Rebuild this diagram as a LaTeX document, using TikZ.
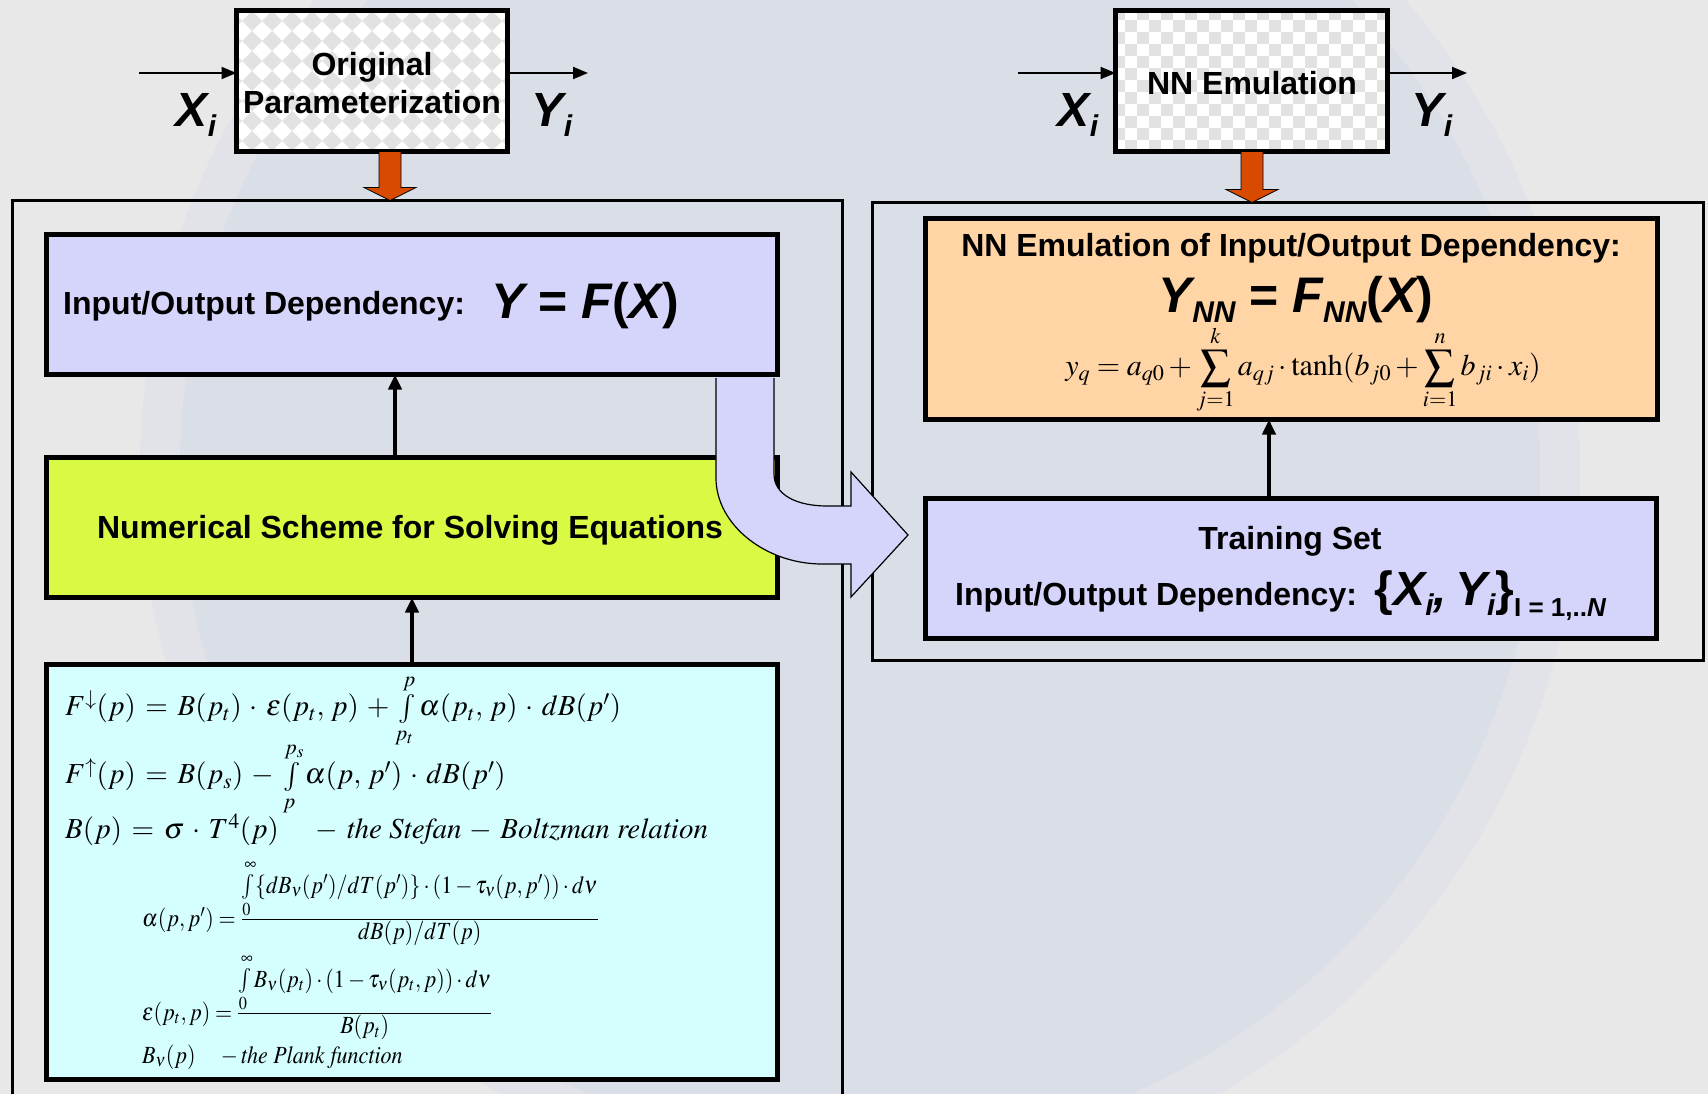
\documentclass[tikz,border=0pt]{standalone}
\usepackage{graphicx}
\usepackage{mathptmx}
\usepackage[no-math]{fontspec}
\setmainfont{Liberation Serif}
\setsansfont{Liberation Sans}
\usetikzlibrary{arrows.meta,calc}
\definecolor{bggray}{RGB}{232,232,233}
\definecolor{bgmid}{RGB}{225,227,232}
\definecolor{bgblue}{RGB}{218,222,231}
\definecolor{lav}{RGB}{213,213,252}
\definecolor{lime}{RGB}{216,250,68}
\definecolor{cyanl}{RGB}{213,255,255}
\definecolor{peach}{RGB}{255,213,166}
\definecolor{orng}{RGB}{216,74,0}
\definecolor{chk}{RGB}{226,226,226}
\newcommand{\BI}{\sffamily\bfseries\itshape}
\newcommand{\BU}{\sffamily\bfseries\upshape}
\newcommand{\sbs}[1]{\raisebox{-10pt}{\fontsize{30}{30}\selectfont #1}}
\newcommand{\sbsm}[1]{\raisebox{-11pt}{\fontsize{26}{26}\selectfont #1}}
\newcommand{\wide}{\thickmuskip=6mu plus 2mu\medmuskip=5mu plus 2mu}
\newcommand{\fatdown}[2]{\filldraw[fat] ($(#1)+(-11,0)$) -- ($(#2)+(-11,-13)$) -- ($(#2)+(-26,-13)$) -- (#2) -- ($(#2)+(26,-13)$) -- ($(#2)+(11,-13)$) -- ($(#1)+(11,0)$) -- cycle;}
\begin{document}
\begin{tikzpicture}[x=1pt,y=-1pt,
  bx/.style={draw=black,line width=5pt,rectangle,inner sep=0pt,outer sep=0pt},
  bigbx/.style={draw=black,line width=3pt,rectangle,inner sep=0pt,outer sep=0pt},
  lbl/.style={font=\sffamily\bfseries\fontsize{32}{38}\selectfont,inner sep=0pt,align=center},
  eqn/.style={font=\fontsize{29}{33}\selectfont\wide,inner sep=0pt,anchor=west},
  eqs/.style={font=\fontsize{22}{26}\selectfont,inner sep=0pt,anchor=west},
  thinarr/.style={draw=black,line width=2pt,-{Triangle[length=15pt,width=12pt]}},
  uparr/.style={draw=black,line width=4pt,-{Triangle[length=15pt,width=13pt]}},
  fat/.style={fill=orng,draw=black,line width=0.8pt,line join=miter},
  curv/.style={fill=lav,draw=none},
  curvline/.style={draw=black,line width=1.2pt}
]
\clip (0,0) rectangle (1708,1094);
\fill[bggray] (0,0) rectangle (1708,1094);
\fill[bgmid] (860,470) circle (720pt);
\fill[bgblue] (860,470) circle (680pt);

% big frames
\node[bigbx, minimum width=830pt, minimum height=920pt] (leftbig) at (427.5,660.5) {};
\node[bigbx, minimum width=831pt, minimum height=458pt] (rightbig) at (1288,431.5) {};

% top boxes (pattern coordinates relative to node centre)
\node[bx, fill=white, minimum width=271pt, minimum height=141pt,
  path picture={
    \foreach \i in {0,...,15}{\foreach \j in {0,...,8}{
      \fill[chk] (-150+20*\i,-80+20*\j) -- ++(10,10) -- ++(10,-10) -- ++(-10,-10) -- cycle;}}
  }] (orig) at (372,81) {};
\node[bx, fill=white, minimum width=272pt, minimum height=141pt,
  path picture={
    \foreach \i in {0,2,...,24}{\foreach \j in {0,2,...,12}{
      \fill[chk] (-139+12*\i,-73+12*\j) rectangle ++(12,12);
      \fill[chk] (-127+12*\i,-61+12*\j) rectangle ++(12,12);}}
  }] (nnemu) at (1251.5,81) {};

\node[lbl] (origtxt) at (372,83) {Original\\Parameterization};
\node[lbl] (nnemutxt) at (1252,83) {NN Emulation};

% orange arrows
\coordinate (oa) at (390,0);
\coordinate (ob) at (1252,0);
\fatdown{oa |- orig.south}{oa |- leftbig.north}
\fatdown{ob |- nnemu.south}{ob |- rightbig.north}

% input / output arrows
\coordinate (xl) at (139,73);
\coordinate (yl) at (588,73);
\coordinate (xr) at (1018,73);
\coordinate (yr) at (1467,73);
\draw[thinarr] (xl) -- (xl -| orig.west);
\draw[thinarr] (orig.east |- yl) -- (yl);
\draw[thinarr] (xr) -- (xr -| nnemu.west);
\draw[thinarr] (nnemu.east |- yr) -- (yr);

\node[inner sep=0pt] (xil) at (196,115) {\fontsize{48}{48}\selectfont\BI X\sbs{i}};
\node[inner sep=0pt] (yil) at (552,115) {\fontsize{48}{48}\selectfont\BI Y\sbs{i}};
\node[inner sep=0pt] (xir) at (1078,115) {\fontsize{48}{48}\selectfont\BI X\sbs{i}};
\node[inner sep=0pt] (yir) at (1432,115) {\fontsize{48}{48}\selectfont\BI Y\sbs{i}};

% left column boxes
\node[bx, fill=lav, minimum width=731pt, minimum height=140pt] (io) at (412,304.5) {};
\node[bx, fill=lime, minimum width=731pt, minimum height=140pt] (num) at (412,527.5) {};
\node[bx, fill=cyanl, minimum width=731pt, minimum height=415pt] (eq) at (412,872) {};

% right column boxes
\node[bx, fill=peach, minimum width=732pt, minimum height=201pt] (nnio) at (1291.5,319) {};
\node[bx, fill=lav, minimum width=731pt, minimum height=140pt] (train) at (1291,568.5) {};

% up arrows
\coordinate (u1) at (395,0);
\coordinate (u2) at (412,0);
\coordinate (u3) at (1269,0);
\draw[uparr] (u1 |- num.north) -- (u1 |- io.south);
\draw[uparr] (u2 |- eq.north) -- (u2 |- num.south);
\draw[uparr] (u3 |- train.north) -- (u3 |- nnio.south);

% texts in left boxes
\node[lbl, anchor=west] (iotxt) at (63,306) {Input/Output Dependency:};
\node[inner sep=0pt] (yfx) at (585,306) {\fontsize{50}{50}\selectfont\BI Y\BU{} = \BI F\BU(\BI X\BU)};
\node[lbl] (numtxt) at (410,530) {Numerical Scheme for Solving Equations};

% equations
\node[eqn] (eq1) at (65,711) {$F^{\downarrow}(p) = B(p_t)\cdot\varepsilon(p_t,\,p) + \int\limits_{p_t}^{p}\alpha(p_t,\,p)\cdot dB(p')$};
\node[eqn] (eq2) at (65,779) {$F^{\uparrow}(p) = B(p_s) - \int\limits_{p}^{p_s}\alpha(p,\,p')\cdot dB(p')$};
\node[eqn] (eq3) at (65,830) {$B(p) = \sigma\cdot T^4(p)\quad -\mathit{the\ Stefan}-\mathit{Boltzman\ relation}$};
\node[eqs] (eq4) at (142,903) {\scalebox{1}[1.12]{$\alpha(p,p') = \frac{\textstyle\int\limits_0^{\infty}\{dB_\nu(p')/dT(p')\}\cdot(1-\tau_\nu(p,p'))\cdot d\nu}{\textstyle dB(p)/dT(p)}$}};
\node[eqs] (eq5) at (142,997) {\scalebox{1}[1.12]{$\varepsilon(p_t,p) = \frac{\textstyle\int\limits_0^{\infty}B_\nu(p_t)\cdot(1-\tau_\nu(p_t,p))\cdot d\nu}{\textstyle B(p_t)}$}};
\node[eqs] (eq6) at (142,1057) {\scalebox{1}[1.12]{$B_\nu(p)\quad -\mathit{the\ Plank\ function}$}};

% texts in right boxes
\node[lbl] (nniotitle) at (1291,248) {NN Emulation of Input/Output Dependency:};
\node[inner sep=0pt] (ynn) at (1296,300) {\fontsize{50}{50}\selectfont\BI Y\sbs{NN}\BU{} = \BI F\sbs{NN}\BU(\BI X\BU)};
\node[inner sep=0pt, font=\fontsize{30}{34}\selectfont] (yq) at (1303,370) {$\displaystyle y_q = a_{q0} + \sum_{j=1}^{k} a_{qj}\cdot\tanh(b_{j0} + \sum_{i=1}^{n} b_{ji}\cdot x_i)$};
\node[lbl] (trtitle) at (1290,541) {Training Set};
\node[inner sep=0pt, anchor=west] (trline) at (955,596) {\sffamily\bfseries\fontsize{32}{38}\selectfont Input/Output Dependency:\ \ {\fontsize{48}{48}\selectfont\{\BI X\sbs{i},\,Y\sbs{i}\BU\}}\sbsm{\BU I = 1,..\BI N}};

% curved transfer arrow
\path[curv] (716,377) -- (716,478) .. controls (716,525) and (766,564) .. (822,564) -- (851,564) -- (851,597) -- (908,535) -- (851,472) -- (851,506) -- (827,506) .. controls (797,506) and (774,495) .. (774,474) -- (774,377) -- cycle;
\draw[curvline] (716,378) -- (716,478) .. controls (716,525) and (766,564) .. (822,564) -- (851,564) -- (851,597) -- (908,535) -- (851,472) -- (851,506) -- (827,506) .. controls (797,506) and (774,495) .. (774,474) -- (774,378);
\end{tikzpicture}
\end{document}
